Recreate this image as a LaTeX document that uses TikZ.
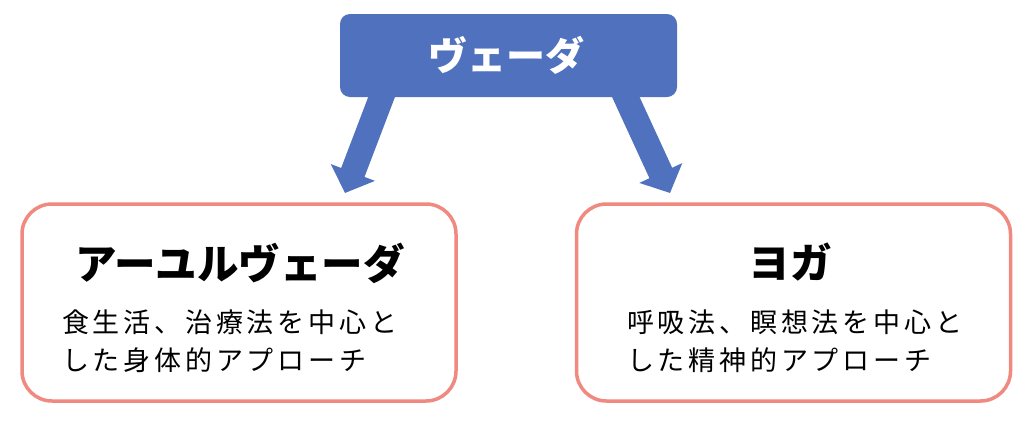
\documentclass[tikz,border=0pt]{standalone}
\usepackage{fontspec}
\newfontfamily\jp{Noto Sans CJK JP}
\usetikzlibrary{arrows.meta}
\definecolor{vblue}{HTML}{4F71BE}
\definecolor{salmon}{HTML}{F08A80}
\tikzset{
  topbox/.style={fill=vblue, rounded corners=10pt, minimum width=337pt, minimum height=83pt, inner sep=0pt, text=white, font={\jp\bfseries\fontsize{39}{44}\selectfont}},
  subbox/.style={draw=salmon, line width=3.5pt, rounded corners=30pt, minimum width=434pt, minimum height=197pt, inner sep=0pt},
  titletext/.style={inner sep=0pt, font={\jp\bfseries\fontsize{41.5}{46}\selectfont}},
  bodytext/.style={inner sep=0pt, anchor=west, align=left, font={\jp\addfontfeature{LetterSpace=14}\fontsize{27}{38}\selectfont}},
  bigarrow/.style={draw=vblue, line width=25pt, -{Triangle[length=22pt,width=46pt]}}
}
\begin{document}
\begin{tikzpicture}[x=1pt,y=-1pt]
\useasboundingbox (0,0) rectangle (1024,421);
\fill[white] (0,0) rectangle (1024,421);
\coordinate (ls) at (383.5,92);
\coordinate (lt) at (345,193);
\coordinate (rs) at (623.5,92);
\coordinate (rt) at (670,193);
\draw[bigarrow] (ls) -- (lt);
\draw[bigarrow] (rs) -- (rt);
\node[topbox] (veda) at (508.5,55.5) {\hspace*{-5pt}ヴェーダ};
\node[subbox] (ayurbox) at (239,302.5) {};
\node[subbox] (yogabox) at (793.5,302.5) {};
\node[titletext] (ayurtitle) at (240,263) {アーユルヴェーダ};
\node[titletext] (yogatitle) at (790,262) {ヨガ};
\node[bodytext] (ayurbody) at (62,341) {食生活、治療法を中心と\\した身体的アプローチ};
\node[bodytext] (yogabody) at (627,341) {呼吸法、瞑想法を中心と\\した精神的アプローチ};
\end{tikzpicture}
\end{document}
